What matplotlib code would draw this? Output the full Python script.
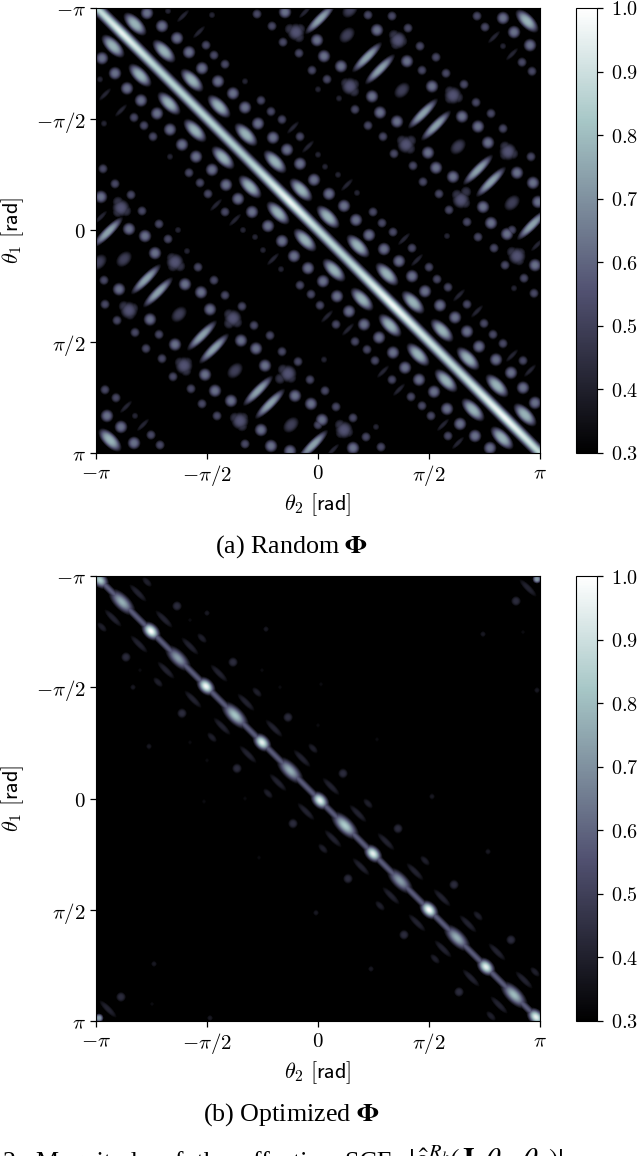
import numpy as np
import matplotlib
matplotlib.use('Agg')
import matplotlib.pyplot as plt

plt.rcParams['mathtext.fontset'] = 'cm'
plt.rcParams['font.size'] = 14

# all peaks are (col, row) on a 444 x 444 angle grid, upper triangle only,
# the matrix is symmetric about the main diagonal
N = 444
tick_vals = [-np.pi, -np.pi / 2, 0, np.pi / 2, np.pi]
tick_labels = [r'$-\pi$', r'$-\pi/2$', r'$0$', r'$\pi/2$', r'$\pi$']
cbar_ticks = [0.3, 0.4, 0.5, 0.6, 0.7, 0.8, 0.9, 1.0]

# (a) random
a_ridge_pos = [0, 26, 60, 110, 150, 194, 222, 250, 297, 322, 360, 409, 444]
a_ridge_amp = [0.86, 0.96, 0.86, 0.86, 0.84, 0.97, 0.88, 0.86, 0.98, 0.92, 0.88, 0.98, 0.88]
a_diag = [(39, 17), (68, 44), (96, 73), (123, 99), (150, 127), (179, 154), (205, 182), (232, 209),
          (262, 238), (291, 266), (317, 294), (346, 322), (372, 350), (401, 377), (429, 406),
          (431, 14)]
a_anti = [(271, 50), (284, 62), (327, 106), (340, 118), (382, 162), (395, 174), (224, 12), (436, 217)]
a_thin = [(103, 25), (87, 9), (212, 139), (197, 120), (398, 30), (416, 47), (251, 177),
          (308, 231), (321, 252), (363, 287), (381, 303), (416, 347), (434, 362), (209, 5), (441, 237), (432, 224)]
a_round = [(51, 6), (66, 19), (81, 31), (93, 45), (106, 61), (122, 74), (137, 86), (149, 100), (162, 116),
           (177, 130), (191, 142), (204, 156), (218, 172), (189, 5), (221, 33), (228, 49), (245, 59), (311, 54),
           (336, 79), (284, 105), (301, 114), (366, 109), (382, 119), (392, 135), (340, 160), (357, 169),
           (421, 165), (437, 175), (387, 199), (442, 194), (395, 215), (407, 11), (418, 25), (434, 38),
           (248, 198), (260, 212), (273, 227), (288, 241), (303, 253), (316, 268), (329, 283), (344, 297),
           (359, 309), (371, 323), (383, 338), (400, 351), (415, 364), (427, 379), (439, 394), (411, 226),
           (439, 257), (281, 23), (276, 89), (332, 145), (233, 186)]
a_small = [(110, 38), (118, 48), (129, 57), (165, 93), (175, 104), (186, 112), (204, 129), (161, 7), (176, 19),
           (187, 35), (203, 46), (216, 63), (272, 8), (296, 9), (312, 21), (324, 39), (340, 50), (326, 63),
           (350, 66), (368, 77), (380, 95), (395, 106), (407, 121), (435, 149), (231, 72), (259, 102), (272, 118),
           (287, 129), (298, 146), (317, 158), (327, 174), (343, 186), (353, 202), (371, 214), (381, 9), (389, 20),
           (426, 55), (436, 64), (277, 204), (286, 215), (297, 224), (316, 240), (333, 259), (341, 271), (352, 279),
           (371, 296), (388, 315), (397, 326), (407, 335), (427, 352), (382, 229), (398, 240), (409, 257),
           (428, 270), (438, 285), (416, 222)]
a_tiny = [(72, 4), (116, 8), (149, 74), (222, 82), (243, 91), (222, 147), (229, 159), (242, 167), (261, 185),
          (407, 39), (351, 228), (418, 280)]
a_dim = [(251, 28), (306, 83), (362, 139), (416, 195), (254, 3)]
# the triangular peaks, a centre and three lobes each
a_tri_mid = [(200, 25), (302, 33), (254, 79), (357, 88), (310, 137), (412, 144), (365, 192), (421, 248)]
a_tri = [(194, 22), (204, 22), (203, 30), (298, 28), (306, 34), (300, 37), (250, 76), (258, 77), (258, 84),
         (354, 84), (354, 91), (362, 90), (306, 133), (315, 133), (314, 141), (409, 139), (409, 147), (417, 146),
         (361, 187), (370, 184), (369, 195), (416, 244), (424, 245), (423, 252)]

# (b) optimized
b_bright = [4, 55, 110, 166, 224, 277, 333, 390, 440]
b_bright_amp = [0.85, 1.0, 0.98, 0.95, 0.95, 0.95, 1.0, 0.95, 0.95]
b_broad = [26, 82, 139, 194, 249, 304, 361, 418]
b_broad_amp = [0.77, 0.73, 0.82, 0.77, 0.84, 0.73, 0.77, 0.8]
b_diag = [(42, 17), (68, 43), (94, 70), (123, 97), (150, 126), (178, 152), (206, 182), (235, 210),
          (262, 237), (290, 265), (319, 295), (346, 321), (372, 347), (401, 375), (428, 403), (432, 12)]
b_short = [(51, 6), (106, 62), (161, 116), (217, 172), (272, 227), (329, 284), (382, 339), (439, 395)]
b_round = [(81, 30), (137, 86), (192, 141), (247, 197), (420, 25), (302, 252), (358, 308), (415, 363)]
b_tiny = [(111, 37), (170, 53), (387, 58), (441, 114), (336, 220), (392, 275)]
b_faint = [(94, 44), (225, 108), (281, 163), (427, 56), (222, 149), (184, 111), (166, 94)]
b_corner = [(441, 3)]

col, row = np.meshgrid(np.arange(N) + 0.5, np.arange(N) + 0.5)


def add_peaks(z, peaks, amp, s_diag, s_anti):
    for c, r in peaks:
        for dc, dr in ((col - c, row - r), (col - r, row - c)):
            u = (dc + dr) / np.sqrt(2)
            v = (dc - dr) / np.sqrt(2)
            # a bit flatter than a gaussian, the peaks have quite sharp edges
            z = np.maximum(z, amp * np.exp(-(u**2 / (2 * s_diag**2) + v**2 / (2 * s_anti**2))**1.4))
    return z


def make_a():
    z = np.zeros((N, N))
    v = (col - row) / np.sqrt(2)
    along = (col + row) / 2
    z = np.maximum(z, np.interp(along, a_ridge_pos, a_ridge_amp) * np.exp(-v**2 / (2 * 4.8**2)))
    z = add_peaks(z, a_diag, 0.78, 11, 5.2)
    z = add_peaks(z, a_anti, 0.74, 3.8, 15.5)
    z = add_peaks(z, a_thin, 0.42, 2.6, 9)
    z = add_peaks(z, a_round, 0.63, 5.4, 5.4)
    z = add_peaks(z, a_small, 0.53, 4.4, 4.4)
    z = add_peaks(z, a_tiny, 0.42, 3.6, 3.6)
    z = add_peaks(z, a_dim, 0.5, 6, 8.5)
    z = add_peaks(z, a_tri_mid, 0.56, 7.5, 7.5)
    z = add_peaks(z, a_tri, 0.46, 5.5, 5.5)
    return z


def make_b():
    z = np.zeros((N, N))
    v = (col - row) / np.sqrt(2)
    z = np.maximum(z, 0.58 * np.exp(-v**2 / (2 * 3.6**2)))
    for p, a in zip(b_bright, b_bright_amp):
        u = (col + row - 2 * p) / np.sqrt(2)
        z = np.maximum(z, a * np.exp(-u**2 / (2 * 7.5**2) - v**2 / (2 * 5.2**2)))
    for p, a in zip(b_broad, b_broad_amp):
        u = (col + row - 2 * p) / np.sqrt(2)
        z = np.maximum(z, a * np.exp(-u**2 / (2 * 13**2) - v**2 / (2 * 6**2)))
    z = add_peaks(z, b_diag, 0.41, 13, 3.6)
    z = add_peaks(z, b_short, 0.4, 7, 3.6)
    z = add_peaks(z, b_round, 0.44, 5, 5)
    z = add_peaks(z, b_tiny, 0.38, 3.5, 3.5)
    z = add_peaks(z, b_faint, 0.34, 3, 3)
    z = add_peaks(z, b_corner, 0.72, 3.5, 3.5)
    return z


W, H = 638, 1156
fig = plt.figure(figsize=(W / 100, H / 100), dpi=100)


def draw_panel(z, top, caption):
    ax = fig.add_axes([96 / W, 1 - (top + 445) / H, 444 / W, 445 / H])
    im = ax.imshow(z, cmap='bone', vmin=0.3, vmax=1.0, aspect='auto',
                   extent=[-np.pi, np.pi, np.pi, -np.pi], interpolation='bilinear')
    ax.set_xticks(tick_vals)
    ax.set_xticklabels(tick_labels)
    ax.set_yticks(tick_vals)
    ax.set_yticklabels(tick_labels)
    ax.tick_params(length=4, width=0.9, pad=3.5, labelsize=15)
    ax.set_xlabel(r'$\theta_2\ [\mathsf{rad}]$', fontsize=16, labelpad=2)
    ax.set_ylabel(r'$\theta_1\ [\mathsf{rad}]$', fontsize=16, labelpad=2)
    ax.yaxis.set_label_coords(-70 / 444, 0.5)
    cax = fig.add_axes([576 / W, 1 - (top + 445) / H, 21 / W, 445 / H])
    cb = fig.colorbar(im, cax=cax)
    cb.set_ticks(cbar_ticks)
    cb.set_ticklabels(['$%.1f$' % t for t in cbar_ticks])
    cb.ax.tick_params(length=4, width=0.9, pad=6, labelsize=14.5)
    fig.text(291.5 / W, 1 - (top + 539) / H, caption, ha='center', va='center', fontsize=18.7,
             family='Liberation Serif', math_fontfamily='stix')


draw_panel(make_a(), 8, r'(a) Random $\mathbf{\Phi}$')
draw_panel(make_b(), 576, r'(b) Optimized $\mathbf{\Phi}$')

fig.text(3 / W, 1 - 1169 / H, '2:  Magnitude  of  the  effective  SCE',
         ha='left', va='baseline', fontsize=18.7, family='Liberation Serif')
fig.text(408 / W, 1 - 1169 / H, r'$|\hat{g}^{R_k}(\mathbf{J},\theta_1,\theta_2)|$',
         ha='left', va='baseline', fontsize=21, math_fontfamily='stix')

fig.savefig('out.png', dpi=100)
